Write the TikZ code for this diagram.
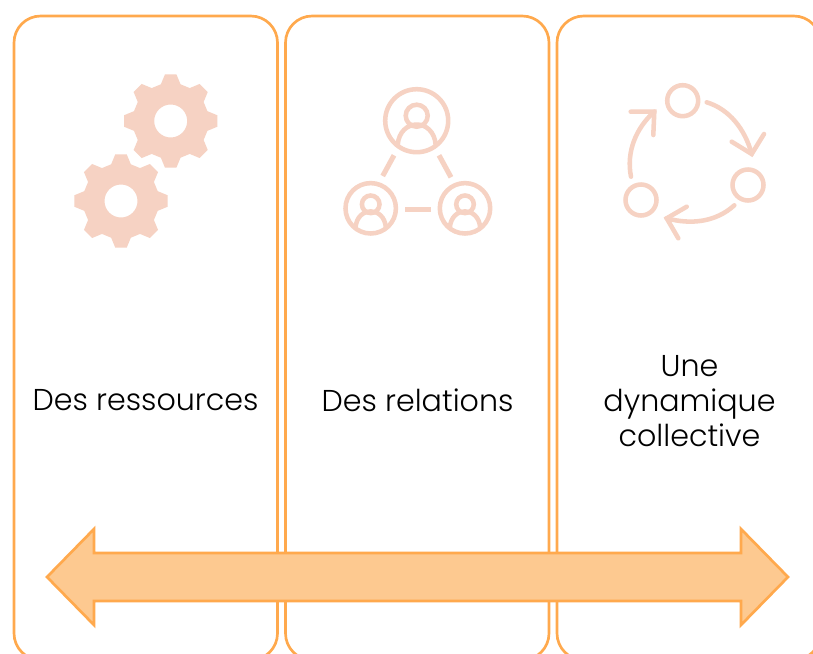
\documentclass[tikz,border=0pt]{standalone}
\usepackage{fontspec}
\setmainfont{Poppins Light}
\definecolor{orange}{RGB}{255,169,77}
\definecolor{orangeclair}{RGB}{253,201,144}
\definecolor{saumon}{RGB}{246,210,195}
\tikzset{%
  panneau/.style={draw=orange,line width=2pt,fill=white,rounded corners=20pt},
  fleche/.style={draw=orange,fill=orangeclair,line width=2pt,miter limit=10},
  icone/.style={draw=saumon,line width=3.4pt,line cap=round},
  lien/.style={icone,line cap=butt,line width=3.8pt},
  etiquette/.style={align=center,text=black,font=\fontsize{22.6}{26.3}\selectfont,inner sep=0pt},
  pics/engrenage/.style={code={
    \fill[saumon,even odd rule] (-7:47) \foreach \a in {0,45,...,315} {
      -- (\a-7:47) -- (\a+7:47) -- (\a+15:38) -- (\a+30:38)} -- cycle
      (0,0) circle (16.5);
  }},
  pics/personne/.style={code={
    \draw[icone] (0,0) circle (31.5);
    \draw[icone] (0,-5) circle (11);
    \draw[icone] (-19,24.3) .. controls (-17,-3) and (17,-3) .. (19,24.3);
  }}
}
\begin{document}
\begin{tikzpicture}[x=0.75pt,y=-0.75pt]
  \useasboundingbox (0,0) rectangle (813,653);
  \clip (0,0) rectangle (813,653);
  \foreach \x in {14,285.5,557} {
    \draw[panneau] (\x,16) rectangle +(263.5,644);
  }
  \pic at (170.7,121) {engrenage};
  \pic at (121,201) {engrenage};
  \pic at (416.7,120.7) {personne};
  \pic[scale=.8] at (370.7,208.3) {personne};
  \pic[scale=.8] at (465,208.3) {personne};
  \draw[lien] (394,155.3) -- (382.7,176);
  \draw[lien] (439,155.3) -- (451,177.3);
  \draw[lien] (405,209.3) -- (431,209.3);
  \draw[icone] (682.7,100.7) circle (15.5);
  \draw[icone] (748,185) circle (15.5);
  \draw[icone] (641,200) circle (15.5);
  \draw[icone] (706.7,102.3) .. controls (729,109) and (745,129) .. (751.7,154);
  \draw[icone] (731.7,141.7) -- (751.7,154) -- (764,134);
  \draw[icone] (734.3,205.3) .. controls (716,222) and (691,225) .. (666.7,218.3);
  \draw[icone] (686.7,206.7) -- (666.7,218.3) -- (678.3,238.3);
  \draw[icone] (631,176.7) .. controls (626,152) and (636,128) .. (654.3,111.7);
  \draw[icone] (630.7,111.7) -- (654.3,111.7) -- (653.3,135);
  \node[etiquette] (ressources) at (145.5,400.5) {Des ressources};
  \node[etiquette] (relations) at (417.5,400.5) {Des relations};
  \node[etiquette] (dynamique) at (689.5,401) {Une\\dynamique\\collective};
  \draw[fleche] (47,577) -- (94,529) -- (94,553) -- (741,553) -- (741,529)
    -- (788,577) -- (741,625) -- (741,601) -- (94,601) -- (94,625) -- cycle;
\end{tikzpicture}
\end{document}
